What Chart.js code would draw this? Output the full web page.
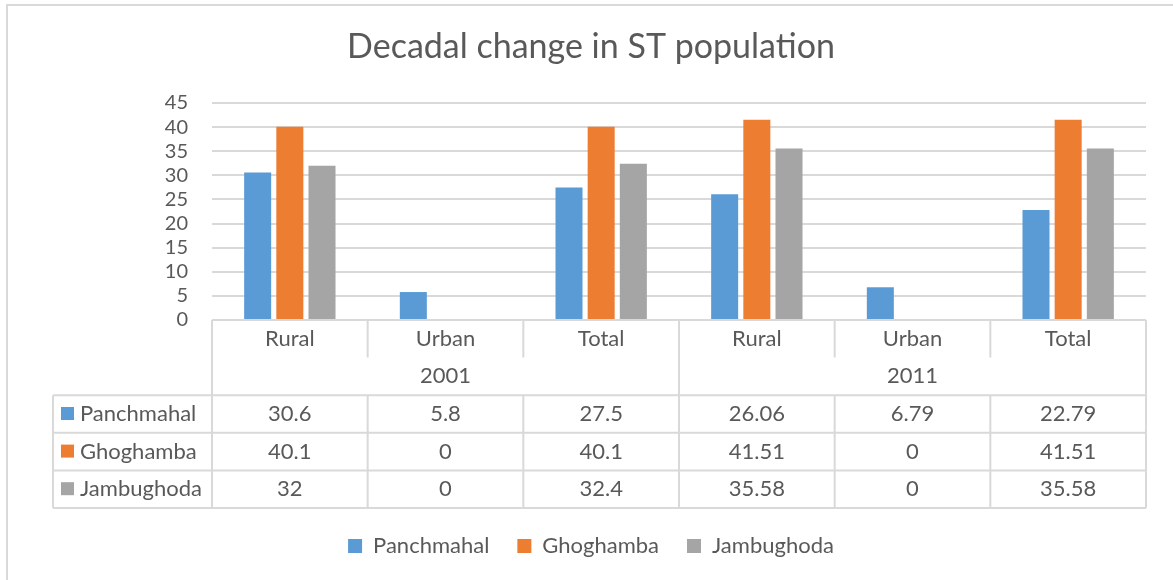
<!DOCTYPE html>
<html lang="en">
<head>
    <title>Decadal change in ST population</title>
    <script src="https://cdn.jsdelivr.net/npm/chart.js"></script>
    <style>
        body {
            margin: 0;
            background: #fff;
        }
        .graph {
            width: 1173px;
            height: 580px;
        }
    </style>
</head>
<body>
    <div class="graph">
        <canvas id="decadal"></canvas>
    </div>

    <script>
        const categories = ['Rural', 'Urban', 'Total', 'Rural', 'Urban', 'Total'];
        const years = ['2001', '2011'];
        const panchmahal = [30.6, 5.8, 27.5, 26.06, 6.79, 22.79];
        const ghoghamba = [40.1, 0, 40.1, 41.51, 0, 41.51];
        const jambughoda = [32, 0, 32.4, 35.58, 0, 35.58];
        const yTicks = [0, 5, 10, 15, 20, 25, 30, 35, 40, 45];

        const textColor = '#595959';
        const lineColor = '#d9d9d9';
        const fontFamily = 'Lato, "Open Sans", sans-serif';
        const tableFont = 22;

        const series = [
            { label: 'Panchmahal', data: panchmahal, color: '#5b9bd5' },
            { label: 'Ghoghamba', data: ghoghamba, color: '#ed7d31' },
            { label: 'Jambughoda', data: jambughoda, color: '#a5a5a5' }
        ];

        // data table under the bars, columns follow the x scale
        const dataTable = {
            id: 'dataTable',
            beforeDraw(chart) {
                const ctx = chart.ctx;
                ctx.save();
                ctx.strokeStyle = lineColor;
                ctx.lineWidth = 2;
                ctx.beginPath();
                ctx.moveTo(7, chart.height);
                ctx.lineTo(7, 5);
                ctx.lineTo(chart.width, 5);
                ctx.stroke();
                ctx.restore();
            },
            afterDraw(chart) {
                const { ctx, chartArea, scales: { x } } = chart;
                const half = (x.right - x.left) / categories.length / 2;
                const edges = categories.map((c, i) => x.getPixelForValue(i) - half);
                edges.push(x.right);
                const perYear = categories.length / years.length;
                const rowH = 37.6;
                const rowY = [0, 1, 2, 3, 4, 5].map(i => chartArea.bottom + i * rowH);
                const tableLeft = x.left - 159;

                ctx.save();
                ctx.strokeStyle = lineColor;
                ctx.lineWidth = 2;
                ctx.beginPath();
                ctx.moveTo(x.left, rowY[0]);
                ctx.lineTo(x.right, rowY[0]);
                for (let r = 2; r <= 5; r++) {
                    ctx.moveTo(tableLeft, rowY[r]);
                    ctx.lineTo(x.right, rowY[r]);
                }
                ctx.moveTo(tableLeft, rowY[2]);
                ctx.lineTo(tableLeft, rowY[5]);
                edges.forEach((ex, i) => {
                    if (i % perYear === 0) {
                        ctx.moveTo(ex, rowY[0]);
                        ctx.lineTo(ex, rowY[5]);
                    } else {
                        ctx.moveTo(ex, rowY[0]);
                        ctx.lineTo(ex, rowY[1]);
                        ctx.moveTo(ex, rowY[2]);
                        ctx.lineTo(ex, rowY[5]);
                    }
                });
                ctx.stroke();

                ctx.fillStyle = textColor;
                ctx.font = tableFont + 'px ' + fontFamily;
                ctx.textAlign = 'center';
                ctx.textBaseline = 'middle';
                categories.forEach((c, i) => {
                    ctx.fillText(c, x.getPixelForValue(i), (rowY[0] + rowY[1]) / 2);
                });
                years.forEach((yr, i) => {
                    const cx = (edges[i * perYear] + edges[(i + 1) * perYear]) / 2;
                    ctx.fillText(yr, cx, (rowY[1] + rowY[2]) / 2);
                });
                series.forEach((s, r) => {
                    const cy = (rowY[r + 2] + rowY[r + 3]) / 2;
                    s.data.forEach((v, i) => {
                        ctx.fillText(String(v), x.getPixelForValue(i), cy);
                    });
                    ctx.fillStyle = s.color;
                    ctx.fillRect(tableLeft + 8, cy - 7, 13, 13);
                    ctx.fillStyle = textColor;
                    ctx.textAlign = 'left';
                    ctx.fillText(s.label, tableLeft + 27, cy);
                    ctx.textAlign = 'center';
                });
                ctx.restore();
            }
        };

        const ctx = document.getElementById('decadal').getContext('2d');
        new Chart(ctx, {
            type: 'bar',
            data: {
                labels: categories,
                datasets: series.map(s => ({
                    label: s.label,
                    data: s.data,
                    backgroundColor: s.color,
                    borderWidth: 0,
                    categoryPercentage: 0.62,
                    barPercentage: 0.84
                }))
            },
            options: {
                responsive: true,
                maintainAspectRatio: false,
                animation: false,
                layout: {
                    padding: { left: 36, right: 27, top: 0, bottom: 13 }
                },
                plugins: {
                    title: {
                        display: true,
                        text: 'Decadal change in ST population',
                        color: textColor,
                        font: { family: fontFamily, size: 34, weight: 'normal' },
                        padding: { top: 26.5, bottom: 35.7 }
                    },
                    legend: {
                        position: 'bottom',
                        labels: {
                            color: textColor,
                            font: { family: fontFamily, size: tableFont },
                            boxWidth: 14,
                            boxHeight: 14,
                            padding: 28
                        }
                    },
                    tooltip: { enabled: false }
                },
                scales: {
                    x: {
                        grid: { display: false },
                        border: { display: false },
                        ticks: { display: false },
                        afterFit: scale => { scale.height = 187; }
                    },
                    y: {
                        min: 0,
                        max: 45,
                        afterBuildTicks: scale => {
                            scale.ticks = yTicks.map(v => ({ value: v }));
                        },
                        afterFit: scale => { scale.width = 176; },
                        grid: { color: lineColor, lineWidth: 2, drawTicks: false },
                        border: { display: false },
                        ticks: {
                            color: textColor,
                            font: { family: fontFamily, size: 20 },
                            padding: 24,
                            autoSkip: false
                        }
                    }
                }
            },
            plugins: [dataTable]
        });
    </script>
</body>
</html>
